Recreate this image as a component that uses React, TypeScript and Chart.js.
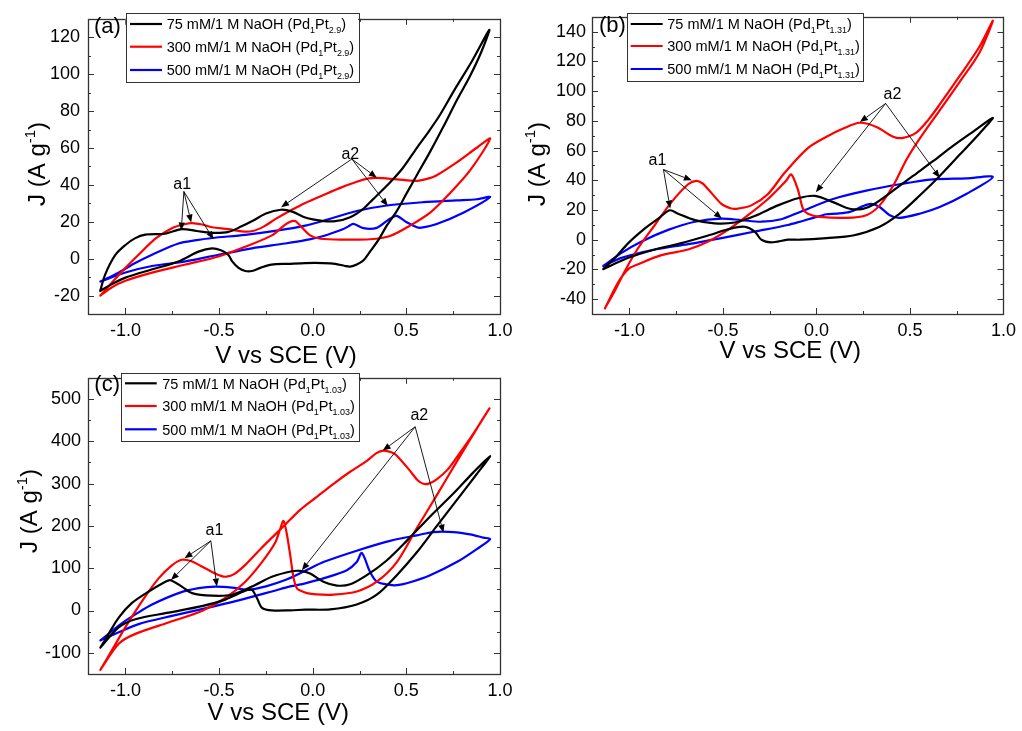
import React, { useEffect, useRef } from "react";
import { Chart, registerables } from "chart.js";

Chart.register(...registerables);

type P = [number, number];

const FONT = "'Liberation Sans', Arial, Helvetica, sans-serif";

// ---------- shared axis data ----------
const xTicks = [-1.0, -0.5, 0.0, 0.5, 1.0];
const xRange: P = [-1.2, 1.0];
const seriesLabels = ["75 mM/1 M NaOH", "300 mM/1 M NaOH", "500 mM/1 M NaOH"];
const seriesColors = ["#000000", "#ff0000", "#0000ff"];

// ---------- panel (a): Pd1Pt2.9 ----------
const aYTicks = [-20, 0, 20, 40, 60, 80, 100, 120];
const aYRange: P = [-30, 130];
const aSub = "2.9";
const a75: P[] = [
  [-1.135, -17.5], [-1.108, -8.5], [-1.054, 2], [-1.0, 7.4], [-0.95, 11], [-0.894, 13], [-0.79, 13.5],
  [-0.7, 16], [-0.62, 15], [-0.54, 14], [-0.45, 14.5], [-0.38, 17.5], [-0.32, 20.5], [-0.25, 24.5],
  [-0.17, 26.5], [-0.11, 25.5], [-0.04, 22.3], [0.05, 20.5], [0.12, 20.3], [0.2, 22.5], [0.27, 27],
  [0.32, 32], [0.41, 41], [0.48, 49], [0.556, 60], [0.62, 69], [0.68, 78], [0.76, 92], [0.85, 107],
  [0.943, 124],
  [0.9, 112], [0.84, 99], [0.77, 86], [0.7, 72], [0.627, 58], [0.56, 46], [0.502, 35.5], [0.45, 26],
  [0.396, 18], [0.35, 10], [0.306, 3.8], [0.27, -1], [0.235, -3.2], [0.2, -4.3], [0.173, -4],
  [0.12, -2.8], [0.057, -2.4], [-0.04, -2.4], [-0.13, -2.8], [-0.22, -3.2], [-0.28, -5], [-0.325, -6.7],
  [-0.36, -6.7], [-0.396, -5], [-0.43, -1.5], [-0.45, 2], [-0.49, 4.5], [-0.538, 5.6], [-0.61, 3.8],
  [-0.717, -1.5], [-0.86, -5.9], [-1.0, -10.3], [-1.072, -13.8], [-1.135, -17.5],
];
const a300: P[] = [
  [-1.134, -20], [-1.072, -12.9], [-1.0, -5], [-0.93, 2.1], [-0.84, 10.8], [-0.752, 16.5], [-0.68, 18.8],
  [-0.645, 19.3], [-0.59, 18.5], [-0.538, 17], [-0.45, 16], [-0.38, 14.8], [-0.32, 15], [-0.26, 17.5],
  [-0.2, 21.4], [-0.111, 26.5], [-0.04, 30.2], [0.057, 34.5], [0.15, 38.5], [0.235, 41.7], [0.3, 43.5],
  [0.342, 43.8], [0.449, 43], [0.556, 42.2], [0.62, 43.5], [0.662, 45.2], [0.769, 52.2], [0.876, 60.1],
  [0.947, 65],
  [0.84, 47.8], [0.733, 35.5], [0.627, 24.9], [0.52, 17.9], [0.413, 12.3], [0.306, 10.5], [0.164, 10.3],
  [0.04, 10.8], [-0.014, 12.6], [-0.067, 17.9], [-0.09, 20.2], [-0.103, 20.5], [-0.12, 20],
  [-0.147, 18.5], [-0.218, 12.6], [-0.36, 6.5], [-0.503, 1.2], [-0.68, -3.2], [-0.858, -7.6],
  [-1.0, -12], [-1.072, -15.5], [-1.134, -20],
];
const a500: P[] = [
  [-1.134, -12.4], [-1.037, -7.6], [-0.948, -2.4], [-0.858, 2.1], [-0.717, 8.2], [-0.62, 10],
  [-0.538, 11.2], [-0.36, 12.9], [-0.183, 15.3], [-0.04, 17.9], [0.057, 20.5], [0.235, 25.8],
  [0.396, 28.8], [0.591, 30.6], [0.769, 31.6], [0.876, 32.2], [0.947, 33.4],
  [0.804, 24.9], [0.662, 18.8], [0.58, 16.8], [0.556, 17], [0.502, 19.7], [0.449, 23.2], [0.42, 22],
  [0.396, 20.5], [0.342, 16.7], [0.271, 16.5], [0.217, 18.8], [0.19, 17.5], [0.164, 16.1],
  [0.057, 12.3], [-0.04, 10], [-0.147, 8.2], [-0.325, 5.6], [-0.503, 2.1], [-0.68, -1.5],
  [-0.858, -4], [-1.0, -7.5], [-1.134, -12.4],
];
const aNotes = [
  { text: "a1", label: [-0.697, 40.2] as P, from: [-0.688, 36.4] as P, to: [[-0.702, 15.3], [-0.649, 19.6], [-0.53, 10.5]] as P[] },
  { text: "a2", label: [0.201, 56.6] as P, from: [0.209, 54] as P, to: [[-0.169, 27.9], [0.342, 43.9], [0.401, 28.5]] as P[] },
];

// ---------- panel (b): Pd1Pt1.31 ----------
const bYTicks = [-40, -20, 0, 20, 40, 60, 80, 100, 120, 140];
const bYRange: P = [-50, 150];
const bSub = "1.31";
const b75: P[] = [
  [-1.14, -19.8], [-1.077, -12.2], [-1.006, -2.3], [-0.917, 7.6], [-0.846, 14.2], [-0.784, 19.8],
  [-0.74, 17.5], [-0.65, 13.2], [-0.544, 11], [-0.437, 11.6], [-0.33, 16], [-0.206, 23.1],
  [-0.099, 27.9], [-0.008, 29.5], [0.089, 25.3], [0.178, 20.8], [0.249, 20.8], [0.303, 23.5],
  [0.41, 33], [0.516, 42.9], [0.623, 52.8], [0.73, 63.1], [0.836, 72.6], [0.943, 82],
  [0.872, 71.5], [0.765, 57.1], [0.659, 42.9], [0.552, 29.7], [0.445, 17.5], [0.338, 8.7],
  [0.196, 2.8], [0.054, 1.1], [-0.088, 0], [-0.153, 0], [-0.242, -1.8], [-0.295, 0], [-0.33, 5.5],
  [-0.384, 8.7], [-0.455, 7.6], [-0.579, 2.8], [-0.722, -2.3], [-0.864, -6.6], [-1.006, -12.2],
  [-1.14, -19.8],
];
const b300: P[] = [
  [-1.131, -46.2], [-1.077, -34.2], [-1.024, -21], [-0.953, -5.6], [-0.864, 9.9], [-0.775, 25.3],
  [-0.686, 37.3], [-0.642, 39.6], [-0.61, 38], [-0.579, 34], [-0.508, 24.1], [-0.46, 21.2],
  [-0.428, 20.8], [-0.348, 23.1], [-0.259, 30.8], [-0.17, 45], [-0.046, 61.6], [0.054, 69.3],
  [0.143, 74.8], [0.232, 78.7], [0.321, 75.9], [0.41, 69.3], [0.463, 68.5], [0.534, 72], [0.6, 81],
  [0.659, 91], [0.765, 110], [0.872, 130], [0.943, 147.4],
  [0.872, 126], [0.765, 106], [0.659, 87], [0.552, 68], [0.481, 53.8], [0.41, 36.3], [0.338, 23.1],
  [0.267, 16.5], [0.16, 14.7], [0.018, 15.4], [-0.046, 17.5], [-0.072, 20.8], [-0.1, 34],
  [-0.135, 43.9], [-0.16, 40], [-0.188, 36.3], [-0.259, 27.4], [-0.366, 16.5], [-0.473, 6.6],
  [-0.579, -1.2], [-0.686, -6.6], [-0.829, -10.4], [-0.953, -16.5], [-1.006, -19.8], [-1.06, -28.7],
  [-1.131, -46.2],
];
const b500: P[] = [
  [-1.14, -17.7], [-1.042, -8.9], [-0.935, -1.2], [-0.793, 6.6], [-0.65, 12.1], [-0.508, 14.2],
  [-0.402, 13.2], [-0.295, 12.1], [-0.188, 13.8], [-0.088, 18.7], [0.089, 27.4], [0.267, 33],
  [0.445, 37.3], [0.623, 40.6], [0.801, 41.3], [0.943, 42.2],
  [0.801, 30.8], [0.659, 22], [0.552, 17.5], [0.445, 14.7], [0.392, 16.5], [0.338, 22], [0.294, 24.1],
  [0.249, 22.6], [0.178, 18.7], [0.107, 17.5], [0.054, 17.1], [-0.017, 14.7], [-0.088, 12.1],
  [-0.153, 9.9], [-0.33, 5.5], [-0.508, 1.1], [-0.686, -3], [-0.864, -6.6], [-1.042, -12.2],
  [-1.14, -17.7],
];
const bNotes = [
  { text: "a1", label: [-0.85, 53.4] as P, from: [-0.818, 47.2] as P, to: [[-0.782, 21], [-0.666, 40], [-0.506, 14.2]] as P[] },
  { text: "a2", label: [0.406, 97.9] as P, from: [0.37, 91.7] as P, to: [[0.232, 79.2], [-0.003, 32], [0.659, 41.7]] as P[] },
];

// ---------- panel (c): Pd1Pt1.03 ----------
const cYTicks = [-100, 0, 100, 200, 300, 400, 500];
const cYRange: P = [-150, 550];
const cSub = "1.03";
const c75: P[] = [
  [-1.134, -87.6], [-1.09, -55.2], [-1.036, -16.6], [-0.965, 18], [-0.876, 45], [-0.787, 68.2],
  [-0.761, 72], [-0.73, 65], [-0.699, 56.6], [-0.645, 41.2], [-0.538, 35], [-0.431, 37.3],
  [-0.325, 56.6], [-0.218, 79.7], [-0.111, 92.8], [-0.067, 93.5], [-0.014, 87.5], [0.057, 68.2],
  [0.129, 59], [0.2, 62], [0.289, 83.6], [0.395, 118.3], [0.502, 164.6], [0.627, 222.4],
  [0.751, 276.4], [0.858, 326.5], [0.947, 365],
  [0.876, 322.6], [0.769, 261], [0.662, 199.3], [0.556, 137.6], [0.449, 83.6], [0.342, 37.4],
  [0.235, 14.3], [0.093, 2.7], [-0.04, 2], [-0.12, 0.5], [-0.218, 0.3], [-0.271, 6.5], [-0.298, 29.6],
  [-0.325, 48.9], [-0.36, 46.6], [-0.467, 25.8], [-0.592, 10.4], [-0.77, -5], [-0.947, -20.5],
  [-1.036, -39.8], [-1.134, -87.6],
];
const c300: P[] = [
  [-1.134, -140], [-1.072, -93.7], [-1.001, -39.8], [-0.912, 21.9], [-0.823, 75.9], [-0.752, 106.7],
  [-0.7, 120], [-0.65, 117], [-0.6, 106], [-0.538, 91.3], [-0.49, 82], [-0.46, 80], [-0.42, 86],
  [-0.36, 108], [-0.28, 145], [-0.2, 180], [-0.156, 199], [-0.067, 238], [0.02, 268], [0.111, 299.5],
  [0.2, 328], [0.289, 353.5], [0.34, 372], [0.378, 378], [0.42, 374], [0.449, 366], [0.52, 330],
  [0.56, 308], [0.591, 299.5], [0.62, 300], [0.662, 310], [0.72, 333], [0.769, 362], [0.858, 418],
  [0.944, 478],
  [0.876, 430], [0.769, 352], [0.662, 272], [0.556, 195], [0.449, 114.5], [0.342, 68.2], [0.235, 45],
  [0.111, 37.4], [0.02, 38], [-0.031, 41.2], [-0.07, 48], [-0.085, 52.8], [-0.102, 76], [-0.12, 130],
  [-0.14, 185], [-0.156, 212], [-0.172, 195], [-0.2, 160.7], [-0.271, 114.4], [-0.36, 68.2],
  [-0.467, 29.6], [-0.592, -1.2], [-0.77, -28.2], [-0.947, -55.2], [-1.036, -78.3], [-1.134, -140],
];
const c500: P[] = [
  [-1.134, -70.6], [-1.036, -35.9], [-1.001, -24.3], [-0.947, -9], [-0.858, 14.2], [-0.716, 41.2],
  [-0.609, 52.8], [-0.52, 56.6], [-0.431, 54.3], [-0.342, 48.9], [-0.254, 56.6], [-0.147, 72],
  [-0.04, 94], [0.057, 114.5], [0.235, 141.4], [0.413, 164.6], [0.556, 177.7], [0.645, 185.4],
  [0.751, 185.4], [0.84, 180], [0.911, 172.3], [0.947, 168.4],
  [0.876, 145.3], [0.769, 114.5], [0.627, 83.6], [0.502, 64.4], [0.45, 60], [0.413, 60.5],
  [0.342, 68.2], [0.306, 91.4], [0.262, 136], [0.235, 114.5], [0.182, 95.2], [0.057, 75.9],
  [-0.04, 64.3], [-0.12, 57], [-0.218, 45], [-0.396, 24], [-0.574, 5], [-0.752, -12.8],
  [-0.93, -32.1], [-1.036, -51.3], [-1.134, -70.6],
];
const cNotes = [
  { text: "a1", label: [-0.525, 190] as P, from: [-0.544, 164.6] as P, to: [[-0.685, 123.7], [-0.757, 72], [-0.512, 56.6]] as P[] },
  { text: "a2", label: [0.569, 459.8] as P, from: [0.547, 434.3] as P, to: [[0.374, 378], [-0.058, 95.2], [0.698, 184]] as P[] },
];

// ---------- layout (positions / sizes only) ----------
type Note = { text: string; label: P; from: P; to: P[] };
type PanelCfg = {
  tag: string; sub: string; series: P[][]; yTicks: number[]; yRange: P; yStep: number; notes: Note[];
  left: number; top: number; w: number; h: number;
  pad: { left: number; top: number; right: number; bottom: number }; yW: number; xH: number;
  tagPos: P; legBox: { left: number; top: number; bottom: number }; legRows: number[];
  legLine: P; legText: number; yTitle: P; xTitle: P; yPad: number;
};

const panels: PanelCfg[] = [
  {
    tag: "(a)", sub: aSub, series: [a75, a300, a500], yTicks: aYTicks, yRange: aYRange, yStep: 20, notes: aNotes,
    left: 0, top: 0, w: 520, h: 372, pad: { left: 0, top: 11, right: 20, bottom: 0 }, yW: 88, xH: 58,
    tagPos: [94, 27], legBox: { left: 125.7, top: 13.3, bottom: 82.7 }, legRows: [24, 46.7, 70],
    legLine: [130, 162], legText: 166.7, yTitle: [44.5, 164], xTitle: [286, 362.5], yPad: 8,
  },
  {
    tag: "(b)", sub: bSub, series: [b75, b300, b500], yTicks: bYTicks, yRange: bYRange, yStep: 20, notes: bNotes,
    left: 510, top: 0, w: 512, h: 372, pad: { left: 0, top: 11, right: 18, bottom: 0 }, yW: 82, xH: 58,
    tagPos: [89, 26], legBox: { left: 117.3, top: 13.3, bottom: 81.7 }, legRows: [24, 46, 69],
    legLine: [120.7, 152.7], legText: 157.3, yTitle: [35, 164], xTitle: [280.3, 358.3], yPad: 6,
  },
  {
    tag: "(c)", sub: cSub, series: [c75, c300, c500], yTicks: cYTicks, yRange: cYRange, yStep: 100, notes: cNotes,
    left: 0, top: 360, w: 520, h: 371, pad: { left: 0, top: 12, right: 20, bottom: 0 }, yW: 88, xH: 57,
    tagPos: [94.3, 25], legBox: { left: 121, top: 13.3, bottom: 81.7 }, legRows: [23.3, 46, 69.3],
    legLine: [125, 156.7], legText: 162.3, yTitle: [37, 151], xTitle: [278.3, 360], yPad: 7,
  },
];

// ---------- drawing helpers ----------
type Part = { t: string; s?: "sub" | "sup" };

function richWidth(ctx: CanvasRenderingContext2D, parts: Part[], size: number) {
  let w = 0;
  for (const p of parts) {
    const fs = p.s ? size * 0.62 : size;
    ctx.font = `${fs}px ${FONT}`;
    w += ctx.measureText(p.t).width;
  }
  return w;
}

function drawRich(ctx: CanvasRenderingContext2D, parts: Part[], x: number, y: number, size: number) {
  let cx = x;
  ctx.textAlign = "left";
  ctx.textBaseline = "alphabetic";
  for (const p of parts) {
    const fs = p.s ? size * 0.62 : size;
    ctx.font = `${fs}px ${FONT}`;
    const dy = p.s === "sub" ? size * 0.28 : p.s === "sup" ? -size * 0.4 : 0;
    ctx.fillText(p.t, cx, y + dy);
    cx += ctx.measureText(p.t).width;
  }
}

function minorsOf(major: number[], step: number, range: P) {
  const out: number[] = [];
  for (const m of major) {
    for (const v of [m - step / 2, m + step / 2]) {
      if (v > range[0] + 1e-9 && v < range[1] - 1e-9 && !out.some((o) => Math.abs(o - v) < 1e-9) && !major.some((o) => Math.abs(o - v) < 1e-9)) out.push(v);
    }
  }
  return out;
}

function arrow(ctx: CanvasRenderingContext2D, x1: number, y1: number, x2: number, y2: number) {
  const ang = Math.atan2(y2 - y1, x2 - x1);
  const L = 8, W = 3.2;
  const bx = x2 - L * Math.cos(ang), by = y2 - L * Math.sin(ang);
  ctx.beginPath();
  ctx.moveTo(x1, y1);
  ctx.lineTo(bx, by);
  ctx.stroke();
  ctx.beginPath();
  ctx.moveTo(x2, y2);
  ctx.lineTo(bx + W * Math.sin(ang), by - W * Math.cos(ang));
  ctx.lineTo(bx - W * Math.sin(ang), by + W * Math.cos(ang));
  ctx.closePath();
  ctx.fill();
}

function buildChart(canvas: HTMLCanvasElement, p: PanelCfg) {
  const deco = {
    id: "deco",
    afterDatasetsDraw(chart: any) {
      const ctx: CanvasRenderingContext2D = chart.ctx;
      const { left, right, top, bottom } = chart.chartArea;
      const xs = chart.scales.x, ys = chart.scales.y;
      ctx.save();
      ctx.strokeStyle = "#333";
      ctx.lineWidth = 1;
      const xMinor = minorsOf(xTicks, 0.5, xRange);
      const yMinor = minorsOf(p.yTicks, p.yStep, p.yRange);
      const drawX = (v: number, len: number) => {
        const px = Math.round(xs.getPixelForValue(v)) + 0.5;
        ctx.beginPath();
        ctx.moveTo(px, bottom); ctx.lineTo(px, bottom - len);
        ctx.moveTo(px, top); ctx.lineTo(px, top + len);
        ctx.stroke();
      };
      const drawY = (v: number, len: number) => {
        const py = Math.round(ys.getPixelForValue(v)) + 0.5;
        ctx.beginPath();
        ctx.moveTo(left, py); ctx.lineTo(left + len, py);
        ctx.moveTo(right, py); ctx.lineTo(right - len, py);
        ctx.stroke();
      };
      xTicks.forEach((v) => drawX(v, 6));
      xMinor.forEach((v) => drawX(v, 3));
      p.yTicks.forEach((v) => drawY(v, 6));
      yMinor.forEach((v) => drawY(v, 3));
      // frame
      ctx.lineWidth = 1.3;
      ctx.strokeStyle = "#333";
      ctx.strokeRect(Math.round(left) + 0.5, Math.round(top) + 0.5, Math.round(right - left), Math.round(bottom - top));

      // annotations
      ctx.strokeStyle = "#000";
      ctx.fillStyle = "#000";
      ctx.lineWidth = 0.9;
      for (const n of p.notes) {
        const fx = xs.getPixelForValue(n.from[0]), fy = ys.getPixelForValue(n.from[1]);
        for (const t of n.to) arrow(ctx, fx, fy, xs.getPixelForValue(t[0]), ys.getPixelForValue(t[1]));
        ctx.font = `16px ${FONT}`;
        ctx.textAlign = "center";
        ctx.textBaseline = "middle";
        ctx.fillText(n.text, xs.getPixelForValue(n.label[0]), ys.getPixelForValue(n.label[1]));
      }
      ctx.restore();
    },
    afterDraw(chart: any) {
      const ctx: CanvasRenderingContext2D = chart.ctx;
      ctx.save();
      ctx.fillStyle = "#000";
      // panel tag
      ctx.font = `22px ${FONT}`;
      ctx.textAlign = "left";
      ctx.textBaseline = "middle";
      ctx.fillText(p.tag, p.tagPos[0], p.tagPos[1]);

      // legend
      const size = 14.5;
      const rows: Part[][] = seriesLabels.map((s) => [
        { t: s + " (Pd" }, { t: "1", s: "sub" }, { t: "Pt" }, { t: p.sub, s: "sub" }, { t: ")" },
      ]);
      const maxW = Math.max(...rows.map((r) => richWidth(ctx, r, size)));
      const bx = p.legBox.left, by = p.legBox.top;
      const bw = p.legText + maxW + 4 - bx, bh = p.legBox.bottom - by;
      ctx.fillStyle = "#fff";
      ctx.fillRect(bx, by, bw, bh);
      ctx.strokeStyle = "#333";
      ctx.lineWidth = 1;
      ctx.strokeRect(Math.round(bx) + 0.5, Math.round(by) + 0.5, Math.round(bw), Math.round(bh));
      rows.forEach((r, i) => {
        const yy = p.legRows[i];
        ctx.strokeStyle = seriesColors[i];
        ctx.lineWidth = 2.2;
        ctx.beginPath();
        ctx.moveTo(p.legLine[0], yy);
        ctx.lineTo(p.legLine[1], yy);
        ctx.stroke();
        ctx.fillStyle = "#000";
        drawRich(ctx, r, p.legText, yy + size * 0.36, size);
      });

      // axis titles
      const tsize = 24;
      const xt: Part[] = [{ t: "V vs SCE (V)" }];
      const xw = richWidth(ctx, xt, tsize);
      ctx.fillStyle = "#000";
      drawRich(ctx, xt, p.xTitle[0] - xw / 2, p.xTitle[1], tsize);
      const yt: Part[] = [{ t: "J (A g" }, { t: "-1", s: "sup" }, { t: ")" }];
      const yw = richWidth(ctx, yt, tsize);
      ctx.translate(p.yTitle[0], p.yTitle[1]);
      ctx.rotate(-Math.PI / 2);
      drawRich(ctx, yt, -yw / 2, 0, tsize);
      ctx.restore();
    },
  };

  const tickFont = { family: FONT, size: 18 };
  return new Chart(canvas, {
    type: "scatter",
    data: {
      datasets: p.series.map((s, i) => ({
        label: seriesLabels[i],
        data: s.map(([x, y]) => ({ x, y })),
        showLine: true,
        borderColor: seriesColors[i],
        backgroundColor: seriesColors[i],
        borderWidth: 2.2,
        pointRadius: 0,
        tension: 0.3,
        fill: false,
        borderJoinStyle: "round" as const,
        borderCapStyle: "round" as const,
      })),
    },
    options: {
      animation: false,
      responsive: false,
      devicePixelRatio: 1,
      events: [],
      layout: { padding: p.pad },
      plugins: { legend: { display: false }, tooltip: { enabled: false }, title: { display: false } },
      scales: {
        x: {
          type: "linear",
          min: xRange[0],
          max: xRange[1],
          grid: { display: false, drawTicks: false },
          border: { display: false },
          afterBuildTicks: (scale: any) => { scale.ticks = xTicks.map((value) => ({ value })); },
          afterFit: (scale: any) => { scale.height = p.xH; },
          ticks: {
            autoSkip: false, maxRotation: 0, padding: 6, color: "#000", font: tickFont,
            callback: (v: any) => Number(v).toFixed(1),
          },
        },
        y: {
          type: "linear",
          min: p.yRange[0],
          max: p.yRange[1],
          grid: { display: false, drawTicks: false },
          border: { display: false },
          afterBuildTicks: (scale: any) => { scale.ticks = p.yTicks.map((value) => ({ value })); },
          afterFit: (scale: any) => { scale.width = p.yW; },
          ticks: {
            autoSkip: false, padding: p.yPad, color: "#000", font: tickFont,
            callback: (v: any) => String(v),
          },
        },
      },
    },
    plugins: [deco],
  } as any);
}

function Panel({ cfg }: { cfg: PanelCfg }) {
  const ref = useRef<HTMLCanvasElement>(null);
  useEffect(() => {
    const chart = buildChart(ref.current!, cfg);
    return () => chart.destroy();
  }, [cfg]);
  return (
    <canvas
      ref={ref}
      width={cfg.w}
      height={cfg.h}
      style={{ position: "absolute", left: cfg.left, top: cfg.top, width: cfg.w, height: cfg.h }}
    />
  );
}

export default function App() {
  return (
    <div style={{ position: "absolute", left: 0, top: 0, width: 1022, height: 731, background: "#fff", overflow: "hidden" }}>
      {panels.map((p) => (
        <Panel key={p.tag} cfg={p} />
      ))}
    </div>
  );
}
